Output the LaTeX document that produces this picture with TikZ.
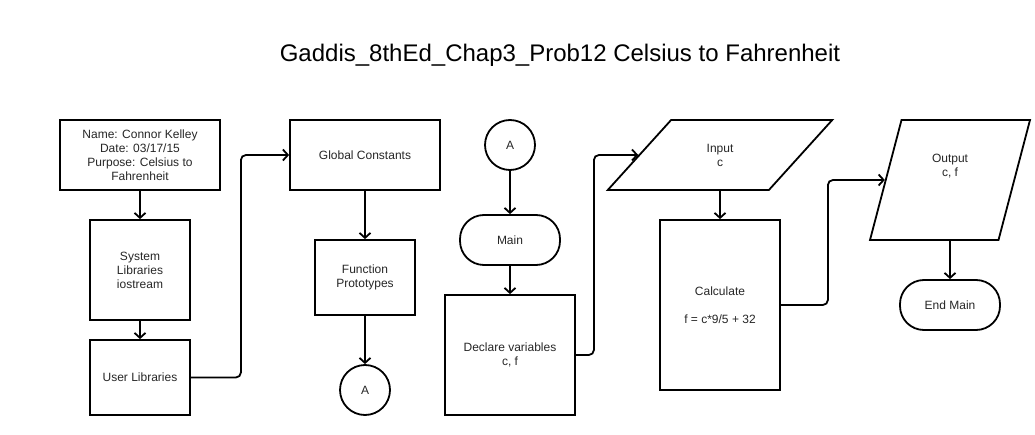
\documentclass[tikz,border=0pt]{standalone}
\usepackage{fontspec}
\setmainfont{Liberation Sans}
\usetikzlibrary{shapes.geometric, arrows.meta, positioning}

\begin{document}
\begin{tikzpicture}[x=1pt, y=-1pt,
  every node/.style={inner sep=2pt, font=\fontsize{12}{14}\selectfont, text=black!85},
  proc/.style={draw, line width=1.8pt, align=center},
  term/.style={draw, line width=1.8pt, minimum width=100pt, minimum height=50pt,
               rounded corners=24pt},
  conn/.style={draw, circle, line width=1.8pt, minimum size=50pt},
  io/.style={draw, trapezium, trapezium stretches=true, line width=1.8pt, align=center},
  arrow/.style={-{Straight Barb[length=5pt,width=11pt]}, line width=1.8pt,
                rounded corners=5pt}]
\useasboundingbox (0,0) rectangle (1035,435);

\node[font=\fontsize{24}{28}\selectfont, text=black, anchor=base] (title) at (560,62)
  {Gaddis\_8thEd\_Chap3\_Prob12 Celsius to Fahrenheit};

% left column: header and libraries
\node[proc, minimum width=160pt, minimum height=70pt] (header) at (140,155)
  {Name: Connor Kelley\\Date: 03/17/15\\Purpose: Celsius to\\Fahrenheit};
\node[proc, minimum width=100pt, minimum height=100pt] (syslib) at (140,270)
  {System\\Libraries\\iostream};
\node[proc, minimum width=100pt, minimum height=75pt] (userlib) at (140,377.5)
  {User Libraries};
\node[proc, minimum width=150pt, minimum height=70pt] (globals) at (365,155)
  {Global Constants};
\node[proc, minimum width=100pt, minimum height=75pt] (protos) at (365,277.5)
  {Function\\Prototypes};
\node[conn] (offA) at (365,390) {A};

% main program
\node[conn] (onA) at (510,145) {A};
\node[term] (main) at (510,240) {Main};
\node[proc, minimum width=130pt, minimum height=120pt] (declare) at (510,355)
  {Declare variables\\c, f};
\node[io, trapezium left angle=53, trapezium right angle=127,
      minimum width=226pt, minimum height=70pt] (input) at (720,155) {Input\\c};
\node[proc, minimum width=120pt, minimum height=170pt] (calc) at (720,305)
  {Calculate\\[14pt]f = c*9/5 + 32};
\node[io, trapezium left angle=72, trapezium right angle=108,
      minimum width=160pt, minimum height=120pt,
      label={[align=center, yshift=14pt]center:Output\\c, f}] (output) at (950,180) {};
\node[term] (endmain) at (950,305) {End Main};

\draw[arrow] (header) -- (syslib);
\draw[arrow] (syslib) -- (userlib);
\draw[arrow] (userlib.east) -- ++(50,0) |- (globals.west);
\draw[arrow] (globals) -- (protos);
\draw[arrow] (protos) -- (offA);
\draw[arrow] (onA) -- (main);
\draw[arrow] (main) -- (declare);
\draw[arrow] (declare.east) -- ++(18,0) |- (input.left side);
\draw[arrow] (input.bottom side -| calc.north) -- (calc.north);
\draw[arrow] (calc.east) -- ++(47,0) |- (output.left side);
\draw[arrow] (output.bottom side -| endmain.north) -- (endmain.north);
\end{tikzpicture}
\end{document}
